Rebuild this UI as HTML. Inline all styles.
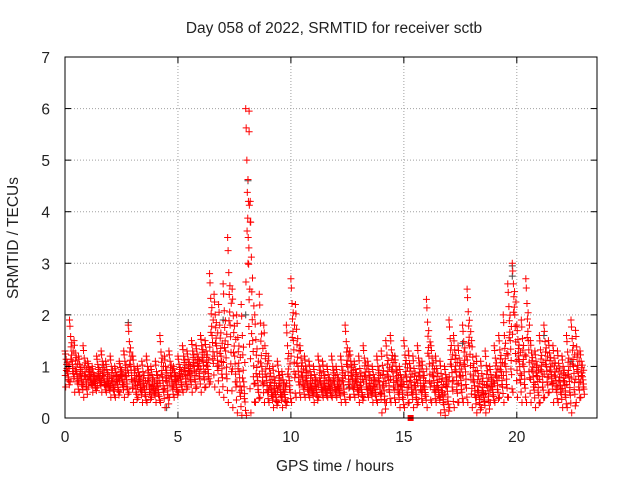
<!DOCTYPE html>
<html><head><meta charset="utf-8"><style>
body{margin:0;background:#fff}
svg text{font-family:"Liberation Sans",sans-serif;font-size:15.5px;fill:#222}
</style></head><body>
<svg id="chart" width="640" height="480" xmlns="http://www.w3.org/2000/svg">
<rect width="640" height="480" fill="#fff"/>
<text x="334" y="33" text-anchor="middle">Day 058 of 2022, SRMTID for receiver sctb</text>
<g id="grid"></g>
<g id="gray"></g>
<g id="red"></g>
<rect x="65" y="57" width="532" height="361" fill="none" stroke="#000" stroke-width="1"/>
<g id="ticks"></g>
<text x="335" y="471" text-anchor="middle">GPS time / hours</text>
<text transform="translate(18,238) rotate(-90)" text-anchor="middle">SRMTID / TECUs</text>
</svg>
<script>
const xTicks=[0,5,10,15,20];
const yTicks=[0,1,2,3,4,5,6,7];
const binStep=0.2;
const hiVals=[1.3,1.9,1.5,1.2,1.4,1.1,1.0,1.2,1.3,1.1,
1.2,1.0,1.1,1.3,1.8,1.2,1.0,1.1,1.2,1.0,
1.1,1.6,1.2,1.3,1.0,1.2,1.4,1.3,1.5,1.4,
1.6,1.5,2.8,2.4,2.2,2.6,3.5,2.5,2.0,2.2,
6.0,4.2,2.0,2.4,1.8,1.2,1.0,1.1,0.9,1.8,
2.7,2.2,1.4,1.2,1.1,1.0,1.2,1.1,1.0,1.2,
1.0,1.2,1.8,1.3,1.1,1.2,1.4,1.1,1.0,1.2,
1.3,1.5,1.6,1.2,1.0,1.5,1.3,1.2,1.4,1.1,
2.3,1.4,1.2,1.1,1.0,1.9,1.6,1.4,1.8,2.5,
1.5,1.2,1.1,1.3,1.0,1.4,1.6,2.0,2.6,3.0,
1.8,1.9,2.7,1.5,1.3,1.6,1.8,1.5,1.4,1.3,
1.2,1.6,1.9,1.7,1.3];
const loVals=[0.6,0.7,0.5,0.5,0.4,0.6,0.5,0.6,0.5,0.5,
0.4,0.4,0.5,0.4,0.5,0.3,0.4,0.3,0.3,0.4,
0.3,0.3,0.2,0.4,0.4,0.5,0.5,0.6,0.5,0.6,
0.5,0.6,0.7,0.6,0.5,0.4,0.3,0.2,0.1,0.05,
0.05,0.1,0.3,0.4,0.3,0.3,0.2,0.3,0.2,0.3,
0.3,0.4,0.4,0.4,0.4,0.3,0.4,0.4,0.4,0.4,
0.4,0.3,0.3,0.4,0.4,0.3,0.4,0.4,0.3,0.3,
0.1,0.3,0.3,0.3,0.2,0.2,0.3,0.2,0.3,0.3,
0.2,0.3,0.3,0.1,0.05,0.2,0.2,0.3,0.3,0.3,
0.2,0.1,0.2,0.1,0.3,0.3,0.4,0.3,0.4,0.5,
0.4,0.3,0.3,0.3,0.2,0.3,0.4,0.5,0.3,0.3,
0.2,0.2,0.1,0.3,0.4];
const midVals=[0.9,1.1,0.9,0.8,0.8,0.8,0.7,0.8,0.8,0.7,
0.7,0.7,0.8,0.8,1.0,0.7,0.7,0.6,0.7,0.6,
0.6,0.8,0.7,0.8,0.7,0.8,0.9,0.9,1.0,1.0,
1.1,1.0,1.6,1.4,1.2,1.3,1.8,1.2,0.9,0.7,
3.5,1.5,0.8,1.0,0.8,0.6,0.5,0.6,0.5,0.8,
1.5,1.0,0.8,0.7,0.6,0.6,0.7,0.6,0.6,0.7,
0.6,0.7,1.0,0.8,0.7,0.6,0.8,0.6,0.6,0.7,
0.6,0.8,0.9,0.7,0.6,0.8,0.7,0.6,0.8,0.6,
1.2,0.8,0.6,0.5,0.6,1.0,0.9,0.8,1.0,1.4,
0.7,0.5,0.5,0.6,0.6,0.8,0.9,1.0,1.5,2.0,
1.1,1.0,1.5,0.9,0.8,0.9,1.0,0.9,0.8,0.7,
0.7,0.8,1.0,0.9,0.8];
const grayT=[8.1,19.8,19.8,2.8,4.5,7.0,14.6,21.2,22.4,12.6,8.0,17.6];
const grayV=[4.6,2.95,2.75,1.85,0.2,1.9,1.2,1.6,1.1,0.6,2.0,1.45];
const extraT=[8.15,8.15,8.12,8.2,8.1,8.18,8.14];
const extraV=[5.95,5.55,4.2,3.8,3.0,2.5,3.3];

const NS='http://www.w3.org/2000/svg';
const X0=65,X1=597,Y0=418,Y1=57,XMAX=23.55,YMAX=7;
const xs=t=>X0+t/XMAX*(X1-X0);
const ys=v=>Y0-v/YMAX*(Y0-Y1);
function mk(tag,attrs,parent){const e=document.createElementNS(NS,tag);for(const k in attrs)e.setAttribute(k,attrs[k]);parent.appendChild(e);return e;}
const grid=document.getElementById('grid'),ticks=document.getElementById('ticks');
xTicks.forEach(t=>{
 const x=xs(t);
 if(t>0){const g=mk('line',{x1:x,x2:x,y1:Y1,y2:Y0,stroke:'#a0a0a0','stroke-dasharray':'1,2'},grid);
 
 }
 mk('line',{x1:x,x2:x,y1:Y0,y2:Y0-6,stroke:'#000'},ticks);
 mk('line',{x1:x,x2:x,y1:Y1,y2:Y1+6,stroke:'#000'},ticks);
 const l=mk('text',{x:x,y:Y0+24,'text-anchor':'middle'},ticks);l.textContent=t;
 
 
});
yTicks.forEach(v=>{
 const y=ys(v);
 if(v>0&&v<7){const g=mk('line',{x1:X0,x2:X1,y1:y,y2:y,stroke:'#a0a0a0','stroke-dasharray':'1,2'},grid);
 
 }
 mk('line',{x1:X0,x2:X0+6,y1:y,y2:y,stroke:'#000'},ticks);
 mk('line',{x1:X1,x2:X1-6,y1:y,y2:y,stroke:'#000'},ticks);
 const l=mk('text',{x:X0-15,y:y+6,'text-anchor':'end'},ticks);l.textContent=v;
 
 
});
function plus(t,v,col,parent){
 const x=xs(t),y=ys(v);
 const p=mk('path',{d:`M${x-3.5},${y}h7M${x},${y-3.5}v7`,stroke:col,'stroke-width':1,fill:'none'},parent);
 
 
}
const gray=document.getElementById('gray'),red=document.getElementById('red');
grayT.forEach((t,i)=>plus(t,grayV[i],'#444',gray));
const mixes=[[0,1],[0.02,0.85],[0.05,0.6],[0.07,0.35],[0.09,0.15],[0.11,0],[0.13,-0.15],[0.15,-0.35],[0.17,-0.6],[0.19,-0.85],[0.03,-1],[0.1,0.45],[0.14,-0.5],[0.06,0.05],[0.16,0.25],[0.01,-0.25]];
hiVals.forEach((h,i)=>{
 const t=i*binStep,lo=loVals[i],m=midVals[i];
 mixes.forEach(([dt,f])=>{
  const v=f>=0?m+(h-m)*f:m+(m-lo)*f;
  plus(t+dt,v,'#f00',red);
 });
});
extraT.forEach((t,i)=>plus(t,extraV[i],'#f00',red));
const sq=mk('rect',{x:xs(15.3)-3,y:ys(0)-3,width:6,height:6,fill:'#f00'},red);


</script>
</body></html>
